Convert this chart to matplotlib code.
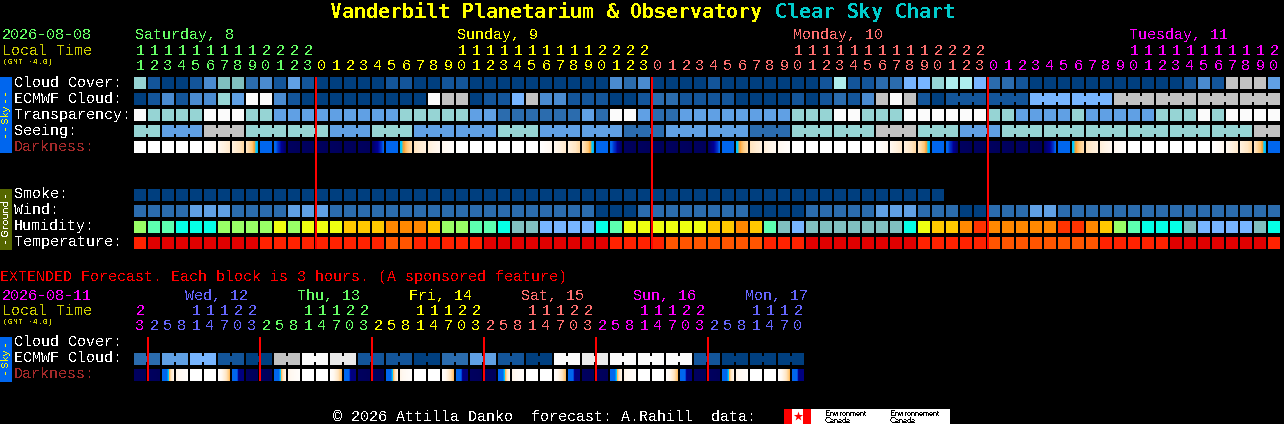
import numpy as np
import matplotlib
matplotlib.use("Agg")
import matplotlib.pyplot as plt
from matplotlib.colors import LinearSegmentedColormap

# shared sky palette, clear -> overcast
sky_colors = ["#003f7f", "#13559a", "#2b6cae", "#4a8bd0", "#60a0e4", "#77b5ff",
              "#80bfbf", "#96d4d4", "#aeeeee", "#c2c2c2", "#eaeaea", "#fbfbfb"]

cloud_cover = [7, 1, 0, 0, 1, 3, 6, 6, 2, 3, 1, 4, 1, 0, 0, 0, 0, 0, 1, 1, 0,
               0, 1, 1, 0, 0, 0, 0, 0, 0, 0, 0, 0, 0, 3, 2, 3, 0, 0, 0, 0, 1,
               0, 0, 0, 0, 0, 0, 0, 1, 8, 1, 1, 2, 2, 5, 5, 7, 8, 8, 5, 2, 2,
               1, 0, 0, 0, 0, 0, 0, 0, 0, 0, 0, 0, 1, 3, 1, 9, 9, 9, 4]
ecmwf_cloud = [0, 1, 3, 1, 3, 3, 7, 4, 11, 11, 3, 1, 0, 0, 0, 0, 0, 0, 0, 0, 0,
               11, 9, 9, 0, 1, 1, 5, 9, 3, 3, 1, 1, 1, 0, 0, 1, 2, 2, 1, 1, 1,
               1, 0, 0, 0, 0, 1, 0, 1, 2, 1, 3, 9, 11, 9, 1, 0, 1, 1, 1, 1, 1,
               1, 5, 5, 5, 5, 5, 5, 9, 9, 9, 9, 9, 9, 9, 9, 9, 9, 9, 9]
transparency = [11, 7, 7, 7, 7, 11, 11, 11, 7, 7, 4, 4, 4, 4, 4, 4, 4, 4, 4, 7, 7,
                7, 7, 7, 4, 4, 2, 2, 2, 2, 2, 2, 4, 2, 11, 11, 4, 2, 2, 4, 4, 4,
                4, 4, 4, 4, 4, 7, 7, 7, 11, 11, 7, 7, 7, 11, 11, 11, 11, 11, 11, 7, 7,
                4, 4, 4, 4, 7, 4, 4, 4, 4, 4, 7, 7, 7, 11, 7, 11, 11, 11, 11]
seeing = [7, 7, 4, 4, 4, 9, 9, 9, 7, 7, 7, 7, 7, 7, 4, 4, 4, 7, 7, 7, 4,
          4, 4, 4, 4, 4, 7, 7, 7, 4, 4, 4, 4, 4, 4, 2, 2, 2, 4, 4, 4, 4,
          4, 4, 2, 2, 2, 7, 7, 7, 7, 7, 7, 9, 9, 9, 7, 7, 7, 4, 4, 4, 7,
          7, 7, 7, 7, 7, 7, 7, 7, 7, 7, 7, 7, 7, 7, 7, 7, 7, 9, 9]
smoke = [0, 0, 0, 0, 0, 0, 0, 0, 0, 0, 0, 0, 0, 0, 0, 0, 0, 0, 0, 0,
         0, 0, 0, 0, 0, 0, 0, 0, 0, 0, 0, 0, 0, 0, 0, 0, 0, 0, 0, 0,
         0, 0, 0, 0, 0, 0, 0, 0, 0, 0, 0, 0, 0, 0, 0, 0, 0, 0]
wind = [2, 2, 2, 2, 4, 4, 4, 2, 2, 2, 2, 4, 4, 4, 2, 2, 2, 2, 2, 2, 2,
        2, 2, 2, 2, 2, 2, 2, 2, 2, 2, 2, 2, 0, 0, 0, 2, 2, 2, 2, 2, 2,
        2, 2, 0, 0, 0, 0, 2, 2, 2, 2, 2, 4, 4, 4, 2, 2, 2, 0, 0, 2, 2,
        2, 4, 4, 2, 2, 2, 2, 2, 2, 2, 2, 2, 2, 2, 2, 2, 2, 2, 2]

# humidity and temperature use their own colour keys
humidity_colors = {"a": "#77b5ff", "b": "#80bfbf", "c": "#05ffe6", "d": "#5dffb0",
                   "e": "#99ff66", "f": "#eeff11", "g": "#ffc800", "h": "#ff8800",
                   "i": "#ff3300"}
humidity = list("edd" "ccc" "eeee" "fef" "ff" "ggg" "hhh"
                "gee" "dd" "c" "bb" "aaaa" "c" "d" "ffffff" "gg" "h" "g" "d" "b" "a"
                "bbbbbbb" "c" "f" "gg" "h" "i" "hhhhh" "ii" "h" "g" "e" "d" "ccc" "b"
                "aaaa" "b" "c")
temp_colors = {"d": "#e00000", "r": "#ff2200", "o": "#ff5500"}
temperature = list("rddddddddrrrrrrrrroor"
                   "rrrrddddddddd" "rrrr" "ooooooo" "rrr" "dddd"
                   "dddd" "rrrrr" "oooooooo" "rrrrr" "ddddddd" "r")

# darkness: each key is a block, ramp values 0 = daylight ... 10 = full dark
dark_stops = {"w": (0, 0, 0), "a": (0, .5, 1), "b": (1, 1.4, 1.8), "c": (1.4, 1.9, 2.3),
              "d": (2, 2.7, 3.4), "B": (4, 4, 4), "e": (4.2, 5.5, 8), "n": (9, 9.5, 10),
              "f": (8, 6, 4.4), "g": (3.3, 2.8, 2.2), "h": (2.1, 1.7, 1.4),
              "i": (1.5, 1.2, 1), "j": (1, .6, .3),
              "p": (4.2, 4.2, 4.0, 3.0, 2.0, 1.2), "q": (1.2, .7, .3),
              "r": (.2, 1.5, 2.8), "s": (4, 4, 4, 7, 7, 7)}
darkness = list("wwwwwabcdBennnnnnfBghijwwwwwwabcdBennnnnnfBghijwwwwwwabcdBennnnnnfBghijwwwwwwabcdB")

# extended forecast, 3 hour blocks
ext_ecmwf = [2, 2, 4, 4, 5, 5, 1, 1, 0, 0, 9, 9, 11, 11, 10, 10, 1, 1, 1, 1, 0, 0, 2, 2,
             4, 4, 1, 1, 0, 0, 11, 11, 10, 10, 11, 11, 11, 11, 11, 11, 1, 1, 0, 0, 0, 0, 0, 0]
ext_darkness = list("nnpqwwrsnnpqwwrsnnpqwwrsnnpqwwrsnnpqwwrsnnpqwwrs")

hours = [11, 12, 13, 14, 15, 16, 17, 18, 19, 20, 21, 22, 23,
         0, 1, 2, 3, 4, 5, 6, 7, 8, 9, 10, 11, 12, 13, 14, 15, 16, 17, 18, 19, 20, 21, 22, 23,
         0, 1, 2, 3, 4, 5, 6, 7, 8, 9, 10, 11, 12, 13, 14, 15, 16, 17, 18, 19, 20, 21, 22, 23,
         0, 1, 2, 3, 4, 5, 6, 7, 8, 9, 10, 11, 12, 13, 14, 15, 16, 17, 18, 19, 20]
ext_hours = [23, 2, 5, 8, 11, 14, 17, 20, 23, 2, 5, 8, 11, 14, 17, 20, 23, 2, 5, 8, 11, 14, 17, 20,
             23, 2, 5, 8, 11, 14, 17, 20, 23, 2, 5, 8, 11, 14, 17, 20, 23, 2, 5, 8, 11, 14, 17, 20]

green, yellow, salmon, magenta, violet = "#66ff66", "#ffff00", "#ff7070", "#ff00ff", "#6666ff"
day_names = ["Saturday, 8", "Sunday, 9", "Monday, 10", "Tuesday, 11"]
day_label_cols = [0, 23, 47, 71]
day_first_cols = [0, 13, 37, 61]
day_colors = [green, yellow, salmon, magenta]
ext_names = ["Wed, 12", "Thu, 13", "Fri, 14", "Sat, 15", "Sun, 16", "Mon, 17"]
ext_label_cols = [4, 12, 20, 28, 36, 44]
ext_first_cols = [0, 1, 9, 17, 25, 33, 41]
ext_day_colors = [magenta, violet, green, yellow, salmon, magenta, violet]

# layout in pixels
X0, STEP, BLOCK = 134, 14, 12
PT = 72 / 100.0
MONO = "Liberation Mono"
FS = 15 * PT

plt.rcParams["text.antialiased"] = False
plt.rcParams["text.hinting"] = "native"
plt.rcParams["text.hinting_factor"] = 1
fig = plt.figure(figsize=(12.84, 4.24), dpi=100, facecolor="black")
ax = fig.add_axes([0, 0, 1, 1])
ax.set_facecolor("black")
ax.axis("off")

dark_cmap = LinearSegmentedColormap.from_list("dark", [
    (0.0, "#ffffff"), (0.1, "#fff8f0"), (0.2, "#ffe6c4"), (0.27, "#ffc878"), (0.3, "#ffa030"),
    (0.32, "#00d0ff"), (0.4, "#0066ee"), (0.45, "#0066ee"), (0.5, "#0033cc"),
    (0.6, "#000099"), (0.8, "#000066"), (1.0, "#00005a")])


def txt(x, y, s, color="white", size=FS, **kw):
    kw.setdefault("family", MONO)
    ax.text(x, y, s, color=color, fontsize=size, va="baseline", ha=kw.pop("ha", "left"), **kw)


def draw_blocks(values, top, colors):
    xs = X0 + STEP * np.arange(len(values))
    ax.bar(xs, BLOCK, width=BLOCK, bottom=top, align="edge",
           color=[colors[v] for v in values], antialiased=False, linewidth=0)


def draw_bridges(values, top, group_of):
    # joined blocks (same model run) get a small bar across the gap
    for i in range(len(values) - 1):
        if group_of(i) == group_of(i + 1) and group_of(i) is not None:
            ax.bar(X0 + STEP * i + BLOCK, 6, width=STEP - BLOCK, bottom=top + 3, align="edge",
                   color=sky_colors[values[i]], antialiased=False, linewidth=0)


def draw_darkness(keys, top):
    for i, k in enumerate(keys):
        stops = dark_stops[k]
        ramp = np.interp(np.linspace(0, 1, BLOCK), np.linspace(0, 1, len(stops)), stops)
        left = X0 + STEP * i
        ax.imshow(ramp[None, :], extent=(left, left + BLOCK, top + BLOCK, top), cmap=dark_cmap,
                  vmin=0, vmax=10, aspect="auto", interpolation="nearest", zorder=2)


def draw_hours(hour_list, first_cols, colors, y_tens, y_ones):
    for i, h in enumerate(hour_list):
        day = np.searchsorted(first_cols, i, side="right") - 1
        x = X0 + STEP * i + 6
        if h >= 10:
            txt(x, y_tens, str(h // 10), colors[day], ha="center")
        txt(x, y_ones, str(h % 10), colors[day], ha="center")


def red_lines(cols, top, bottom):
    xs = [X0 + STEP * c - 1 for c in cols]
    ax.bar(xs, bottom - top, width=2, bottom=top, align="edge", color="#ff0000",
           antialiased=False, linewidth=0, zorder=3)


# title
ax.text(330, 18, "Vanderbilt Planetarium & Observatory", color="#ffff00", family="DejaVu Sans Mono",
        fontweight="bold", fontsize=19.9 * PT, va="baseline")
ax.text(775, 18, "Clear Sky Chart", color="#00cccc", family="DejaVu Sans Mono",
        fontweight="bold", fontsize=19.9 * PT, va="baseline")

# main header
txt(2, 39, "2026-08-08", green)
txt(2, 55, "Local Time", "#cccc00")
txt(3, 64, "(GMT -4.0)", "#cccc00", size=8 * PT)
for name, col, c in zip(day_names, day_label_cols, day_colors):
    txt(X0 + STEP * col + 1, 39, name, c)
draw_hours(hours, day_first_cols, day_colors, 55, 70)

# row labels
for y, label, c in [(87, "Cloud Cover:", "white"), (103, "ECMWF Cloud:", "white"),
                    (119, "Transparency:", "white"), (135, "Seeing:", "white"),
                    (151, "Darkness:", "#a52a2a"), (198, "Smoke:", "white"),
                    (214, "Wind:", "white"), (230, "Humidity:", "white"),
                    (246, "Temperature:", "white"), (346, "Cloud Cover:", "white"),
                    (362, "ECMWF Cloud:", "white"), (378, "Darkness:", "#a52a2a")]:
    txt(14, y, label, c)

# side bars
ax.bar(0, 76, width=12, bottom=77, align="edge", color="#0066ee", antialiased=False, linewidth=0)
ax.bar(0, 61, width=12, bottom=189, align="edge", color="#556600", antialiased=False, linewidth=0)
ax.bar(0, 45, width=12, bottom=337, align="edge", color="#0066ee", antialiased=False, linewidth=0)
ax.text(6, 115, "- - Sky - -", color="#ffff00", family="DejaVu Sans", fontsize=8 * PT * 1.3,
        rotation=90, ha="center", va="center")
ax.text(6, 219, "- Ground -", color="white", family="DejaVu Sans", fontsize=8 * PT * 1.3,
        rotation=90, ha="center", va="center")
ax.text(6, 359, "- Sky -", color="#ffff00", family="DejaVu Sans", fontsize=8 * PT * 1.3,
        rotation=90, ha="center", va="center")

# main rows
draw_blocks(cloud_cover, 77, sky_colors)
draw_blocks(ecmwf_cloud, 93, sky_colors)
draw_bridges(ecmwf_cloud, 93, lambda i: (i - 58) // 3 if i >= 58 else None)
draw_blocks(transparency, 109, sky_colors)
draw_blocks(seeing, 125, sky_colors)
draw_bridges(seeing, 125, lambda i: (i + 1) // 3)
draw_darkness(darkness, 141)
draw_blocks(smoke, 189, sky_colors)
draw_blocks(wind, 205, sky_colors)
draw_blocks(humidity, 221, humidity_colors)
draw_blocks(temperature, 237, temp_colors)
red_lines(day_first_cols[1:], 77, 249)

# extended forecast
txt(0, 281, "EXTENDED Forecast. Each block is 3 hours. (A sponsored feature)", "#ff0000")
txt(2, 300, "2026-08-11", magenta)
txt(2, 315, "Local Time", "#cccc00")
txt(3, 324, "(GMT -4.0)", "#cccc00", size=8 * PT)
for name, col, c in zip(ext_names, ext_label_cols, ext_day_colors[1:]):
    txt(X0 + STEP * col - 5, 300, name, c)
draw_hours(ext_hours, ext_first_cols, ext_day_colors, 315, 330)
draw_blocks(ext_ecmwf, 353, sky_colors)
draw_bridges(ext_ecmwf, 353, lambda i: i // 2)
draw_darkness(ext_darkness, 369)
red_lines(ext_first_cols[1:], 337, 381)

# footer
txt(333, 421, "\u00a9 2026 Attilla Danko  forecast: A.Rahill  data:")
ax.bar(784, 15, width=166, bottom=409, align="edge", color="white", antialiased=False, linewidth=0)
ax.bar(784, 15, width=8, bottom=409, align="edge", color="#ff0000", antialiased=False, linewidth=0)
ax.bar(803, 15, width=8, bottom=409, align="edge", color="#ff0000", antialiased=False, linewidth=0)
ax.scatter([797.5], [416], marker="*", s=50, color="#ff0000", linewidths=0, zorder=3)
for x, top_word in [(825, "Environment"), (890, "Environnement")]:
    ax.text(x, 416, top_word, color="black", family="Liberation Sans", fontsize=8.5 * PT, va="baseline")
    ax.text(x, 423, "Canada", color="black", family="Liberation Sans", fontsize=8.5 * PT, va="baseline")

ax.set_xlim(0, 1284)
ax.set_ylim(424, 0)
fig.savefig("out.png", dpi=100, facecolor="black")
